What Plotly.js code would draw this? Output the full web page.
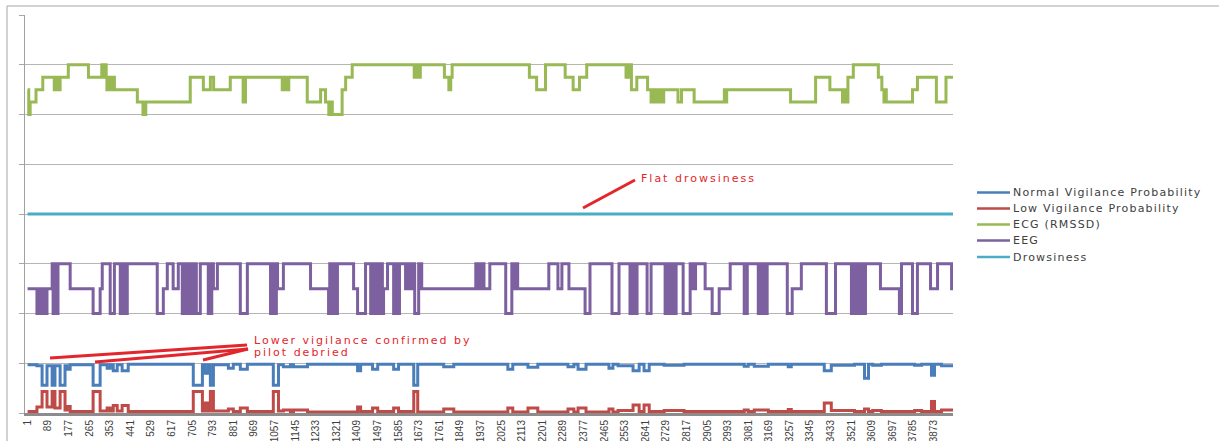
<!DOCTYPE html>
<html><head><meta charset="utf-8">
<script src="https://cdn.plot.ly/plotly-3.0.1.min.js"></script>
<style>html,body{margin:0;padding:0;background:#fff}#chart{width:1219px;height:441px}</style>
</head><body><div id="chart"></div>
<script>
// ---- data (step-change points) ----
var xTickVals = [1,89,177,265,353,441,529,617,705,793,881,969,1057,1145,1233,1321,1409,1497,1585,1673,1761,1849,1937,2025,2113,2201,2289,2377,2465,2553,2641,2729,2817,2905,2993,3081,3169,3257,3345,3433,3521,3609,3697,3785,3873];
var xTickText = ["1","89","177","265","353","441","529","617","705","793","881","969","1057","1145","1233","1321","1409","1497","1585","1673","1761","1849","1937","2025","2113","2201","2289","2377","2465","2553","2641","2729","2817","2905","2993","3081","3169","3257","3345","3433","3521","3609","3697","3785","3873"];

var seriesNames = ['Normal Vigilance Probability','Low Vigilance Probability','ECG (RMSSD)','EEG','Drowsiness'];

var normalX = [1,41,63,84,106,118,140,161,170,183,281,311,341,354,367,384,405,431,709,748,760,773,782,795,859,880,910,940,1051,1073,1094,1124,1137,1197,1411,1424,1475,1497,1565,1586,1651,1668,1779,1822,2053,2074,2139,2181,2310,2335,2353,2387,2485,2502,2524,2588,2614,2635,2657,2721,2806,3063,3080,3106,3166,3251,3264,3405,3435,3534,3577,3594,3612,3649,3791,3821,3863,3876,3906,3955];
var normalY = [0.97,0.95,0.56,0.95,0.56,0.95,0.56,0.95,0.88,0.97,0.56,0.97,0.9,0.97,0.85,0.97,0.85,0.98,0.56,0.97,0.8,0.97,0.56,0.97,0.9,0.98,0.88,0.98,0.56,0.97,0.93,0.97,0.93,0.98,0.85,0.98,0.88,0.98,0.88,0.98,0.56,0.98,0.93,0.98,0.88,0.98,0.92,0.98,0.93,0.98,0.88,0.98,0.9,0.98,0.95,0.85,0.98,0.85,0.98,0.96,0.98,0.94,0.98,0.94,0.98,0.93,0.98,0.85,0.96,0.98,0.7,0.98,0.96,0.98,0.96,0.98,0.76,0.98,0.95,0.95];

var lowX = [1,41,63,84,106,118,140,161,170,183,281,311,341,354,367,384,405,431,709,748,760,773,782,795,859,880,910,940,1051,1073,1094,1124,1137,1197,1411,1424,1475,1497,1565,1586,1651,1668,1779,1822,2053,2074,2139,2181,2310,2335,2353,2387,2485,2502,2524,2588,2614,2635,2657,2721,2806,3063,3080,3106,3166,3251,3264,3405,3435,3534,3577,3594,3612,3649,3791,3821,3863,3876,3906,3955];
var lowY = [0.03,0.12,0.43,0.12,0.43,0.1,0.43,0.06,0.13,0.03,0.43,0.04,0.1,0.04,0.15,0.04,0.15,0.03,0.43,0.04,0.2,0.04,0.43,0.04,0.08,0.03,0.1,0.03,0.43,0.04,0.06,0.03,0.06,0.02,0.12,0.03,0.1,0.03,0.1,0.03,0.43,0.02,0.08,0.02,0.1,0.02,0.1,0.02,0.08,0.02,0.1,0.02,0.08,0.02,0.05,0.16,0.03,0.16,0.03,0.05,0.03,0.06,0.03,0.06,0.03,0.07,0.03,0.2,0.05,0.03,0.08,0.03,0.05,0.03,0.05,0.03,0.23,0.03,0.06,0.06];

var ecgX = [1,6,12,37,66,115,118,121,125,129,133,137,140,175,261,318,322,325,329,333,337,340,345,350,355,360,366,372,470,494,498,502,506,696,752,782,796,867,922,932,1089,1093,1097,1101,1105,1110,1114,1117,1196,1253,1274,1288,1292,1296,1300,1303,1345,1360,1388,1653,1658,1663,1668,1673,1679,1782,1801,1809,1815,2145,2176,2214,2298,2332,2359,2390,2558,2563,2568,2573,2581,2604,2650,2665,2675,2680,2690,2695,2705,2710,2719,2780,2795,2849,2978,2983,2988,3261,3368,3429,3483,3490,3496,3506,3529,3636,3651,3660,3665,3670,3782,3803,3884,3925,3955];
var ecgY = [6.5,6,6.25,6.5,6.75,6.5,6.75,6.5,6.75,6.5,6.75,6.5,6.75,7,6.75,7,6.75,7,6.75,7,6.75,6.5,6.75,6.5,6.75,6.5,6.75,6.5,6.25,6,6.25,6,6.25,6.75,6.5,6.75,6.5,6.75,6.25,6.75,6.5,6.75,6.5,6.75,6.5,6.75,6.5,6.75,6.25,6.5,6.25,6,6.25,6,6.25,6,6.5,6.75,7,6.75,7,6.75,7,6.75,7,6.75,6.5,6.75,7,6.75,6.5,7,6.75,6.5,6.75,7,6.75,7,6.75,7,6.5,6.75,6.5,6.25,6.5,6.25,6.5,6.25,6.5,6.25,6.5,6.25,6.5,6.25,6.5,6.25,6.5,6.25,6.75,6.5,6.25,6.5,6.25,6.75,7,6.75,6.5,6.25,6.5,6.25,6.5,6.75,6.25,6.75,6.75];

var eegX = [1,41,45,49,53,57,61,65,69,73,77,81,84,106,110,114,118,122,126,131,183,281,311,320,354,372,397,403,409,415,421,427,431,555,581,598,623,645,662,667,672,677,682,687,692,697,702,707,712,717,722,739,773,778,783,788,795,812,910,940,1039,1044,1049,1054,1059,1064,1069,1094,1210,1287,1292,1297,1302,1307,1312,1317,1325,1394,1411,1445,1467,1472,1477,1482,1487,1492,1497,1502,1507,1512,1517,1522,1539,1565,1570,1575,1580,1585,1590,1616,1621,1626,1631,1636,1641,1646,1651,1655,1672,1677,1681,1685,1916,1921,1926,1931,1936,1941,1946,1951,1955,1976,2044,2070,2075,2080,2085,2090,2095,2100,2228,2267,2284,2314,2383,2404,2498,2528,2575,2580,2585,2590,2595,2605,2648,2665,2725,2730,2735,2740,2745,2750,2755,2760,2765,2772,2802,2832,2840,2845,2850,2855,2896,2926,2956,3003,3063,3076,3123,3128,3133,3138,3143,3148,3153,3161,3247,3268,3307,3414,3453,3521,3526,3531,3536,3541,3546,3551,3556,3561,3566,3571,3581,3645,3726,3735,3782,3803,3859,3889,3949,3955];
var eegY = [2.5,2,2.5,2,2.5,2,2.5,2,2.5,2,2.5,2,2.5,3,2,3,2,3,2,3,2.5,2,2.5,3,2,3,2,3,2,3,2,3,3,2,2.5,3,2.5,3,2,3,2,3,2,3,2,3,2,3,2,3,2,3,2,3,2,3,2.5,3,2,3,2,3,2,3,2,3,2.5,3,2.5,2,3,2,3,2,3,2,3,2.5,2,3,2,3,2,3,2,3,2,3,2,3,2,2.5,3,2,3,2,3,2,3,2.5,3,2.5,3,2.5,3,2.5,3,2,3,2.5,3,2.5,3,2.5,3,2.5,3,2.5,3,2.5,2.5,3,2,3,2.5,3,2.5,3,2.5,2.5,3,2.5,3,2.5,2,3,2,3,2,3,2,3,2,3,2,3,2,3,2,3,2,3,2,3,2,3,2,3,2.5,3,2.5,3,2.5,2,2.5,3,2,3,2,3,2,3,2,3,2,3,2,2.5,3,2,3,2,3,2,3,2,3,2,3,2,3,2,3,2.5,2,3,2,3,2.5,3,2.5,2.5];

var drowsX = [1,3955];
var drowsY = [4,4];

// ---- chart ----
function px2x(px){return (px-25)/928;}
function py2y(py){return (413-py)/398;}

var colors = ['#4a7ebb','#be4b48','#98b954','#7d60a0','#4bacc6'];
function tr(i,x,y){return {type:'scatter',mode:'lines',name:seriesNames[i],x:x,y:y,line:{color:colors[i],width:3,shape:'hv'},hoverinfo:'skip',showlegend:false};}
var data = [tr(0,normalX,normalY), tr(1,lowX,lowY), tr(2,ecgX,ecgY), tr(3,eegX,eegY), tr(4,drowsX,drowsY)];

var red = '#e3262b';
var shapes = [
  {type:'rect', xref:'paper', yref:'paper', x0:px2x(7), y0:py2y(460), x1:px2x(1240), y1:py2y(6), line:{color:'#a6a6a6', width:1}, fillcolor:'rgba(0,0,0,0)', layer:'below'},
  {type:'line', xref:'paper', yref:'paper', x0:px2x(50), y0:py2y(358), x1:px2x(247), y1:py2y(345), line:{color:red, width:3}},
  {type:'line', xref:'paper', yref:'paper', x0:px2x(95), y0:py2y(362), x1:px2x(248), y1:py2y(349), line:{color:red, width:3}},
  {type:'line', xref:'paper', yref:'paper', x0:px2x(203), y0:py2y(360), x1:px2x(248), y1:py2y(349), line:{color:red, width:3}},
  {type:'line', xref:'paper', yref:'paper', x0:px2x(583), y0:py2y(208), x1:px2x(635), y1:py2y(180), line:{color:red, width:3}}
];
var annFont = {size:11, color:red, family:'DejaVu Sans, sans-serif'};
var annotations = [
  {xref:'paper', yref:'paper', x:px2x(639), y:py2y(178), xanchor:'left', yanchor:'middle', align:'left', showarrow:false, text:'Flat drowsiness', font:annFont},
  {xref:'paper', yref:'paper', x:px2x(252), y:py2y(340), xanchor:'left', yanchor:'middle', align:'left', showarrow:false, text:'Lower vigilance confirmed by', font:annFont},
  {xref:'paper', yref:'paper', x:px2x(252), y:py2y(352), xanchor:'left', yanchor:'middle', align:'left', showarrow:false, text:'pilot debried', font:annFont}
];
// legend (drawn as shapes + text to match the original's compact spacing)
var legendY = [192.5, 208.5, 224.5, 240.5, 257];
for (var i=0;i<seriesNames.length;i++){
  shapes.push({type:'line', xref:'paper', yref:'paper', x0:px2x(977), x1:px2x(1010), y0:py2y(legendY[i]), y1:py2y(legendY[i]), line:{color:colors[i], width:2.5}});
  annotations.push({xref:'paper', yref:'paper', x:px2x(1011), y:py2y(legendY[i]), xanchor:'left', yanchor:'middle', align:'left', showarrow:false, text:seriesNames[i], font:{size:11, color:'#404040', family:'DejaVu Sans, sans-serif'}});
}

var layout = {
  width:1219, height:441,
  margin:{l:25, r:266, t:15, b:28, pad:0},
  paper_bgcolor:'#fff', plot_bgcolor:'#fff',
  font:{family:'DejaVu Sans, sans-serif', color:'#404040'},
  showlegend:false,
  xaxis:{type:'linear', range:[-10,3955], tickmode:'array', tickvals:xTickVals, ticktext:xTickText, tickangle:-90,
    tickfont:{family:'Liberation Sans Narrow, Arial Narrow, sans-serif', size:10, color:'#404040'},
    showgrid:false, zeroline:false, showline:true, linecolor:'#8c8c8c', linewidth:3, ticks:'', automargin:false, fixedrange:true},
  yaxis:{range:[0,8], tick0:0, dtick:1, showticklabels:false, ticks:'outside', ticklen:5, tickcolor:'#a6a6a6',
    showgrid:true, gridcolor:'#b5b5b5', gridwidth:1, showline:true, linecolor:'#a0a0a0', linewidth:1, zeroline:false, automargin:false, fixedrange:true},
  shapes:shapes,
  annotations:annotations
};
Plotly.newPlot('chart', data, layout, {displayModeBar:false, staticPlot:true}).then(function(gd){
  var texts = gd.querySelectorAll('.annotation-text');
  for (var k=0;k<texts.length;k++){
    texts[k].style.letterSpacing = (k<3) ? '2px' : '1.2px';
  }
});
</script></body></html>
